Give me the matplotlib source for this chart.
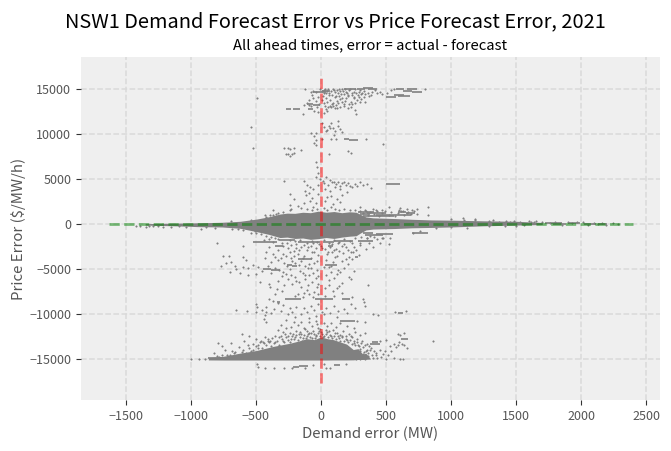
import matplotlib
matplotlib.use("Agg")
import matplotlib.pyplot as plt

plt.rcParams['font.family'] = ['Noto Sans CJK JP', 'DejaVu Sans']

x_ticks = [-1500, -1000, -500, 0, 500, 1000, 1500, 2000, 2500]
y_ticks = [-15000, -10000, -5000, 0, 5000, 10000, 15000]

# range of the two error series, used for the zero reference lines
demand_range = [-1628, 2396]
price_range = [-17600, 16200]

# solid part of the cloud around zero price error
band_x = [-1350, -1100, -950, -760, -620, -492, -400, -315, -260, -200, -140, -80, -20, 40, 100, 160, 220, 270,
          305, 345, 400, 570, 700, 850, 1020, 1250, 1500, 1700]
band_hi = [40, 90, 130, 190, 300, 550, 800, 1100, 1200, 1180, 1300, 1250, 1420, 1300, 1380, 1250, 1350, 1300,
           1050, 780, 680, 600, 520, 450, 420, 350, 300, 170]
band_lo = [-120, -210, -290, -330, -480, -850, -1150, -1500, -1450, -1600, -1550, -1700, -1620, -1500, -1600, -1450, -1350, -1300,
           -980, -660, -560, -500, -420, -380, -320, -200, -120, -60]

# solid part of the cloud near the price floor
floor_x = [-865, -750, -622, -494, -366, -238, -170, -110, -50, 0, 50, 95, 197, 248, 285, 320, 345, 380]
floor_hi = [-14800, -14650, -14300, -14000, -13550, -13200, -12950, -12700, -12800, -12500, -12700, -12800, -13300, -13900, -13800, -14400, -14300, -14900]
floor_lo = [-15050, -15060, -15060, -15060, -15060, -15060, -15060, -15060, -15060, -15060, -15060, -15050, -15050, -15040, -15000, -15000, -14980, -14950]

# rows of points too tight to separate: price error, demand error start, demand error end
streak_price = [15000, 14930, 15030, 14920, 14650, 14720, 15000, 14950, 14720, 14650, 14100, 14180, 14250, 13280, 13200,
                12730, 12730, 12720, 9370, 9320, 4480,
                1330, 1230, 1100, 1000, 860, 1380, 1250, 1050,
                -1030, -1130, -1200, -1000, -1050, -1880, -1950, -1800, -1990, -2000, -1880, -1930,
                -2435, -2435, -3910, -3850, -3620, -4540, -4600, -4540, -5020, -5100, -8340, -8300, -8340, -8300, -8340, -8600, -10740,
                -13320, -13100, -12770, -9815, -15790, -15700, -15600, -14870, -14950,
                60, 120, -40, 30, -20]
streak_from = [274, 360, 320, 180, -60, 10, 580, 660, 632, 700, 500, 590, 560, -110, -60,
               -270, -212, -97, 177, 215, 500,
               285, 350, 300, 420, 320, 590, 650, 600,
               320, 420, 340, 700, 760, 285, -520, -320, -180, 18, 100, 180,
               -353, 56, -174, -130, 261, -264, -220, 31, -443, -380, -276, -220, -46, 10, 159, -340, 146,
               376, 395, 612, 594, -212, -170, 100, -865, -600,
               1720, 1900, 2020, 1780, 2130]
streak_to = [340, 428, 400, 270, 40, 70, 640, 735, 700, 773, 580, 683, 640, -60, -8,
             -233, -161, -64, 215, 287, 610,
             410, 500, 380, 600, 560, 650, 722, 690,
             400, 553, 480, 760, 822, 400, -340, -200, -8, 100, 180, 248,
             -289, 95, -130, -72, 287, -220, -187, 120, -380, -315, -220, -150, 10, 95, 223, -315, 261,
             453, 440, 671, 632, -170, -97, 146, -494, -200,
             1850, 1990, 2110, 1880, 2200]

# scattered points above the central band
upper_points = [
    (-125, 15000), (-80, 14650), (-60, 14700), (-40, 14650), (-10, 14900), (25, 14850), (40, 14500), (55, 15000),
    (75, 14750), (90, 14950), (110, 14600), (125, 14850), (140, 15000), (155, 14400), (170, 14700), (185, 14950),
    (200, 14500), (215, 14800), (235, 14300), (250, 14650), (265, 14950), (290, 14600), (305, 14350), (330, 14700),
    (360, 14550), (385, 14300), (415, 14800), (450, 14650), (800, 14950), (-20, 14100), (-60, 13900), (-90, 13700),
    (-110, 13400), (-130, 13150), (-70, 14300), (-40, 13600), (15, 14200), (35, 13950), (60, 14300), (70, 13700),
    (90, 13450), (105, 14050), (120, 13650), (135, 14200), (150, 13800), (165, 14000), (180, 13300), (195, 13900),
    (210, 14150), (230, 13550), (250, 13950), (275, 13700), (290, 14050), (310, 13850), (340, 13500), (30, 13100),
    (55, 12950), (75, 12900), (95, 13050), (120, 12800), (145, 13000), (175, 13100), (205, 12800), (230, 12900),
    (260, 12600), (-20, 12400), (-50, 12500), (20, 12300), (50, 12550), (-135, 12200), (270, 12150), (-490, 13900),
    (5, 14700), (20, 14450), (30, 15000), (48, 14750), (62, 14550), (82, 14300), (98, 14850), (112, 14150), (128, 14500),
    (146, 14700), (160, 14950), (176, 14350), (192, 14600), (206, 14300), (222, 14950), (240, 14550), (256, 14100),
    (272, 14450), (284, 14250), (298, 14800), (315, 14550), (328, 14100), (342, 14350), (370, 14200), (395, 14600),
    (430, 14500), (470, 14400), (510, 14450), (540, 14800), (560, 14950), (10, 13700), (22, 13400), (48, 13550),
    (82, 13250), (112, 13150), (130, 13450), (158, 13550), (188, 13600), (218, 13300), (240, 13250), (262, 13400),
    (300, 13500), (-15, 13300), (-28, 13000), (-75, 13050), (-95, 13150), (42, 12750), (68, 13100), (108, 12850),
    (10, 11200), (25, 10700), (45, 10450), (60, 10900), (80, 11200), (95, 10600), (110, 10350), (130, 10800),
    (150, 10500), (165, 10200), (-80, 10100), (-40, 10050), (130, 11400), (100, 9900), (70, 10650), (35, 10300),
    (-540, 10700), (-50, 9750), (-35, 9350), (10, 9400), (75, 9370), (115, 9370), (345, 9370), (480, 8900),
    (-50, 9000), (-35, 8700), (-520, 8400), (-280, 8400), (-250, 8450), (-240, 8300), (-205, 8400), (-150, 8200),
    (-270, 7800), (-250, 7700), (-225, 7750), (-210, 7850), (-235, 7500), (60, 7700), (230, 7900), (210, 8100),
    (-40, 6900), (-30, 6300), (-20, 5700), (-35, 5250), (-10, 5000), (15, 4800), (40, 5150), (70, 4900),
    (100, 4600), (130, 4700), (160, 4500), (195, 4350), (225, 4250), (260, 4400), (300, 4650), (350, 4400),
    (385, 4000), (-280, 4800), (-130, 4750), (-105, 4350), (-85, 4100), (-60, 3900), (-120, 3700), (-25, 4350),
    (30, 3900), (70, 3650), (110, 4150), (150, 3900), (200, 3550), (-240, 3300), (-115, 3200), (-90, 3450),
    (-65, 2900), (-25, 3300), (45, 2950), (80, 3150), (120, 2800), (160, 3250), (-210, 2750), (-130, 2300),
    (-85, 2600), (-40, 2350), (30, 2500), (90, 2250), (150, 2450), (-240, 2150), (-180, 1950), (-230, 1700),
    (-150, 1800), (-110, 1650), (-60, 1900), (20, 1750), (80, 1900), (180, 1700), (300, 1850), (400, 1700),
    (520, 1900), (610, 1800), (660, 1700), (700, 1500), (740, 1650), (820, 1900), (-370, 1500), (-240, 1550),
    (20, 4500), (55, 4300), (85, 4650), (115, 4400), (145, 4250), (175, 4700), (210, 4550), (240, 4150), (280, 4250),
    (320, 4350), (-70, 1550), (-30, 1700), (50, 1600), (110, 1650), (140, 1550), (220, 1600), (260, 1500), (340, 1550),
    (420, 1500), (470, 1600), (-290, 1300), (-330, 1250), (-370, 950), (-420, 800),
    # upper rows right of the solid band
    (300, 1450), (325, 1200), (345, 1400), (365, 950), (380, 1300), (405, 1150), (430, 1420), (445, 900), (470, 1250),
    (495, 1450), (520, 1050), (540, 1350), (565, 900), (590, 1200), (615, 1480), (640, 1000), (665, 1300), (690, 1150), (715, 1400),
    (1090, 650), (1180, 500), (1320, 420), (1480, 360), (1600, 300), (1650, 350),
]

# scattered points below the central band, down to the price floor
lower_points = [
    (-230, -2300), (-190, -2700), (-150, -2600), (-110, -2900), (-80, -2450), (-40, -2700), (-15, -2250), (30, -2800),
    (70, -2500), (115, -2750), (160, -2400), (205, -2850), (250, -2550), (300, -2300), (345, -2800), (400, -2500),
    (520, -2200), (-800, -2050), (-600, -2450), (-400, -2500), (-420, -3050), (-370, -3300), (-330, -2900), (-290, -3350),
    (-240, -3150), (-180, -3300), (-130, -3550), (-70, -3100), (-20, -3400), (45, -3350), (85, -3050), (125, -3500),
    (170, -3200), (215, -3600), (245, -3150), (290, -3450), (-750, -3550), (-705, -3500), (-600, -3600), (-575, -3950),
    (-430, -3800), (-385, -4200), (-330, -3950), (-280, -4300), (-230, -3800), (-150, -4150), (-95, -4400), (-30, -4150),
    (40, -3950), (95, -4250), (160, -4100), (210, -4450), (240, -3900), (-770, -4600), (-730, -4300), (-690, -4200),
    (-660, -4700), (-600, -4750), (-560, -4850), (-520, -4500), (-480, -4750), (-455, -5150), (-290, -5300), (-240, -5000),
    (-160, -5200), (-100, -4850), (-30, -5050), (60, -4800), (130, -5050), (180, -4900), (250, -5200), (-700, -5300),
    (-650, -5000), (-620, -5400), (-560, -5700), (-500, -5500), (-380, -5450), (-300, -5800), (-230, -5600), (-120, -5700),
    (-60, -5400), (40, -5600), (120, -5550), (215, -5850), (-330, -6300), (-470, -6450), (-400, -6600), (-70, -6400),
    (-20, -6650), (60, -6200), (160, -6500), (230, -6100), (360, -6700), (-390, -7000), (-340, -7150), (-300, -7400),
    (-155, -7000), (-110, -7300), (-50, -7500), (30, -7100), (90, -7400), (140, -6900), (160, -7600), (-355, -7700),
    (-180, -7700), (-90, -7800), (320, -8250), (330, -8600), (-500, -8900), (-490, -9150), (-450, -9500), (-500, -9700),
    (-420, -9200), (-290, -9000), (-240, -9300), (-190, -9150), (-130, -9350), (-80, -9050), (-20, -8900), (40, -9300),
    (100, -9050), (175, -9400), (230, -8900), (260, -9300), (340, -9100), (-430, -10100), (-440, -10500), (-420, -10900),
    (-380, -9800), (-250, -10000), (-200, -10300), (-150, -10000), (-95, -10400), (-40, -10150), (20, -10000), (70, -9800),
    (120, -10250), (400, -10000), (440, -10100), (570, -9700), (650, -9600), (-650, -9550), (-570, -9600), (-270, -10650),
    (-150, -10800), (-90, -10900), (-40, -10700), (20, -10950), (80, -11000), (280, -10750), (340, -10850), (-230, -11350),
    (-180, -11150), (-130, -11500), (-70, -11300), (-20, -11550), (50, -11250), (115, -11450), (200, -11300), (250, -11500),
    (-330, -11700), (-290, -11950), (-240, -12100), (-190, -11850), (-150, -12200), (-90, -12050), (-40, -12250), (170, -11900),
    (215, -12150), (260, -11950), (300, -12300), (340, -12100), (590, -12150), (610, -12300), (640, -12100), (-610, -12150),
    (-550, -12450), (-500, -12700), (-470, -13100), (-430, -12550), (-390, -12900), (-350, -12400), (-590, -13000), (-690, -13200),
    (-760, -13550), (-790, -13150), (-630, -13600), (-560, -13450), (-480, -13700), (-740, -13950), (-680, -14050), (-610, -14200),
    (-540, -14050), (-820, -14300), (-760, -14450), (420, -14300), (450, -13900), (490, -14050), (380, -13950), (530, -13500),
    (560, -13250), (580, -13650), (600, -13050), (640, -13400), (660, -13700), (455, -12900), (500, -12800), (540, -14100),
    (430, -14800), (500, -14900), (560, -14850), (860, -12950), (-490, -15500), (-485, -15800), (-430, -15950), (-360, -15950),
    (-280, -15950), (-220, -15950), (-120, -15950), (-60, -15600), (20, -15450), (40, -15950), (70, -15950), (190, -15450),
    (610, -14950), (630, -14900), (-890, -14950), (-940, -14950), (-1000, -14950),
    # margin above the solid floor cloud
    (-480, -13400), (-450, -13700), (-420, -13350), (-400, -13050), (-380, -13500), (-360, -13200), (-340, -12900), (-320, -13350),
    (-300, -12700), (-280, -13050), (-265, -12500), (-250, -12850), (-235, -13100), (-220, -12450), (-205, -12750), (-190, -12300),
    (-175, -12800), (-160, -12500), (-145, -12950), (-130, -12300), (-115, -12600), (-100, -12200), (-85, -12500), (-70, -12650),
    (-55, -12150), (-40, -12450), (-25, -12100), (-10, -12350), (10, -12200), (25, -12450), (40, -12150), (55, -12500),
    (70, -12300), (85, -12600), (100, -12350), (115, -12750), (130, -12450), (145, -12900), (160, -12550), (175, -13000),
    (190, -12700), (205, -13100), (220, -12850), (235, -13250), (250, -13000), (265, -13350), (280, -13100), (295, -13500),
    (310, -13200), (325, -13650), (340, -13400), (355, -13900), (370, -13500), (300, -14100), (320, -14350), (345, -14050),
    (290, -14500), (315, -14700), (340, -14600), (365, -14300), (395, -14500), (270, -14900), (300, -14950), (335, -14900),
    (-600, -13950), (-575, -14250), (-550, -13700), (-525, -14000), (-500, -13500), (-700, -14450), (-670, -14300), (-640, -14500),
    (-800, -14600), (-780, -14750), (-720, -14550), (-660, -14150), (-520, -13300), (-445, -13050), (-405, -12750), (-310, -12400),
    (-275, -12200), (-215, -12150), (-160, -11950), (-110, -11900), (-60, -11850), (0, -11950), (60, -11900), (120, -12050),
    (90, -11700), (-10, -11650), (-120, -11650), (35, -11750), (150, -12250), (190, -12400), (240, -12550), (280, -12700),
    (-270, -11500), (-30, -11100), (150, -11000), (-310, -11150), (-210, -10850),
    (-460, -12950), (-435, -13200), (-410, -12900), (-375, -12650), (-350, -13100), (-325, -12550), (-295, -12950), (-255, -12350),
    (-230, -12700), (-200, -12500), (-170, -12200), (-140, -12650), (-105, -12400), (-75, -12100), (-45, -12650), (-15, -11900),
    (15, -12500), (45, -12000), (75, -12450), (110, -12100), (135, -12650), (165, -12350), (200, -12850), (230, -12450), (255, -13200),
    (285, -13350), (315, -13000), (350, -13250), (385, -13700), (410, -14050), (300, -13800), (330, -14150), (365, -14650),
    (400, -14800), (425, -14450), (460, -14700), (475, -14350), (515, -14500), (590, -13400), (620, -13250),
    # around the zero band, lower side
    (-240, -1800), (-200, -1900), (-160, -1800), (-110, -2050), (-70, -1850), (-30, -1950), (20, -1800), (60, -2100), (100, -1750),
    (140, -1950), (180, -1700), (220, -1850), (260, -1600), (310, -1450), (350, -1600), (410, -1450), (470, -1550), (530, -1500),
    (-330, -1700), (-300, -2150), (-260, -2050), (-350, -1500), (-290, -2400), (-190, -2250), (-130, -2300), (-60, -2150), (0, -2400),
    (85, -2250), (130, -2150), (180, -2200), (240, -2150), (300, -2100), (370, -2050), (450, -2150), (190, -3850), (105, -3700),
    (-80, -3800), (-140, -3750), (-220, -4050), (-260, -4700), (-200, -4350), (-120, -4600), (-50, -4350), (20, -4800), (80, -4600),
    (-440, -1800), (-400, -1650), (-370, -1950), (-250, -2650), (-210, -3000), (-170, -2900), (-100, -2600), (-50, -3050), (10, -2650),
    (55, -3100), (100, -2850), (140, -3000), (190, -2550), (230, -3050), (270, -2900), (-350, -3600), (-310, -3750), (-265, -3500),
    (-210, -3550), (-170, -4500), (-80, -4900), (-410, -4700), (-350, -4900), (-320, -5100), (-270, -5500), (-200, -5850), (-140, -5400),
    (-90, -5600), (-20, -5800), (80, -5300), (150, -5300), (-250, -6100), (-190, -6300), (-120, -6100), (-40, -6000), (100, -6000),
    (-280, -6800), (-220, -6650), (-170, -6400), (-100, -6750), (-30, -7000), (60, -6800), (120, -7100), (-130, -7600), (-20, -7700),
    (-200, -8000), (-140, -8050), (-60, -8100), (30, -7950), (100, -8000), (240, -8100), (-400, -8300), (-370, -8500), (-330, -8750),
    (-420, -9700), (-360, -9400), (-310, -9600), (-220, -9700), (-110, -9700), (-50, -9500), (10, -9700), (130, -9600), (200, -9800),
]

# the thin tails of the central band
tail_points = [
    (-1420, -250), (-1390, -270), (-1340, -330), (-1320, -200), (-1290, -260), (-1250, -190), (-1210, -300), (-1150, -330),
    (-1090, -260), (-1040, -310), (-920, -500), (-880, -350), (-810, -410), (-680, -520), (-640, -600), (-600, -650),
    (-540, -950), (-510, -800), (-500, -1000), (-460, -1150), (-420, -1300), (-380, -1400), (-690, 300), (-540, 420),
    (-430, 980), (-390, 1000), (-345, 1150), (2100, 130), (2130, -40), (2160, 100), (2190, -70), (2240, 60), (2280, 40),
    (1900, 250), (1930, 110), (1970, 180), (2010, 220), (2050, -100), (1760, 150), (1800, 190), (1850, -120), (1700, 230),
    (1610, 180), (1560, -150), (1450, 260), (1370, 240), (1120, -430), (1000, -330), (880, -470), (760, -800), (710, -1000),
    (820, 1000), (740, 1100), (660, 1250), (630, 1400), (600, 1500), (480, -1500), (430, -1650), (380, -1350), (350, -1500),
    (1000, 500), (1100, 450), (1180, 420), (1290, 380), (1420, 340), (1530, 260), (1640, 250), (1290, -260), (1410, -180), (1500, -200),
]

fig, ax = plt.subplots(figsize=(6.71, 4.51), dpi=100)
fig.subplots_adjust(left=0.1207, right=0.9836, top=0.8736, bottom=0.1131)

ax.set_facecolor('#efefef')
for spine in ax.spines.values():
    spine.set_visible(False)
ax.grid(True, linestyle='--', linewidth=1.1, color='#d9d9d9')
ax.set_axisbelow(True)

ax.fill_between(band_x, band_lo, band_hi, color='gray', linewidth=0, zorder=2)
ax.fill_between(floor_x, floor_lo, floor_hi, color='gray', linewidth=0, zorder=2)
ax.hlines(streak_price, streak_from, streak_to, color='gray', linewidth=1.2, zorder=2)

for points in (upper_points, lower_points, tail_points):
    xs = [p[0] for p in points]
    ys = [p[1] for p in points]
    ax.scatter(xs, ys, s=1, color='gray', linewidths=0.45, zorder=2)

# zero error reference lines
ax.plot(demand_range, [0, 0], '--', color='green', alpha=0.5, linewidth=2, zorder=3)
ax.plot([0, 0], price_range, '--', color='red', alpha=0.5, linewidth=2, zorder=3)

ax.set_xlim(-1843, 2604)
ax.set_ylim(-19484, 18487)
ax.set_xticks(x_ticks)
ax.set_yticks(y_ticks)
ax.tick_params(colors='#555555', labelsize=9, length=3.5, width=0.8)
ax.tick_params(color='#333333')

ax.set_xlabel('Demand error (MW)', fontsize=10.8, color='#555555', labelpad=3)
ax.set_ylabel('Price Error ($/MW/h)', fontsize=10.8, color='#555555', labelpad=2)
ax.set_title('All ahead times, error = actual - forecast', fontsize=10.7, pad=5.5)
fig.suptitle('NSW1 Demand Forecast Error vs Price Forecast Error, 2021', fontsize=14.4, x=0.5, y=0.976)

fig.savefig('out.png', dpi=100)
